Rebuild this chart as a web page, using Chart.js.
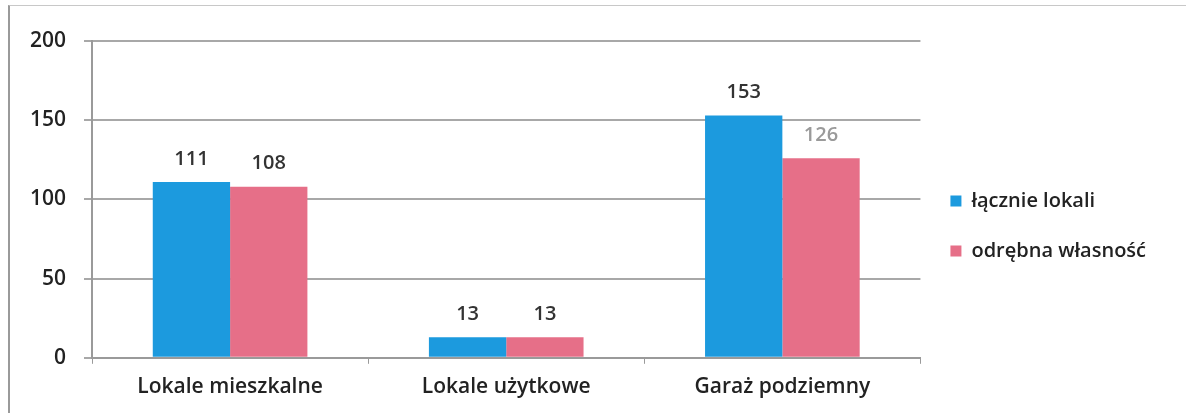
<!DOCTYPE html>
<html>
<head>
<meta charset="utf-8">
<script src="https://cdn.jsdelivr.net/npm/chart.js@4"></script>
<style>
  html, body { margin: 0; padding: 0; background: #fff; }
  #wrap { position: absolute; left: 0; top: 0; width: 1186px; height: 413px; }
  #frame { position: absolute; left: 8px; top: 5px; width: 1178px; height: 408px;
           border-left: 2px solid #9a9a9a; border-top: 1px solid #c8c8c8; }
</style>
</head>
<body>
<div id="wrap">
  <div id="frame"></div>
  <canvas id="mycanvas" width="1186" height="413"></canvas>
</div>
<script>
var categories = ["Lokale mieszkalne", "Lokale użytkowe", "Garaż podziemny"];
var lacznie = [111, 13, 153];
var odrebna = [108, 13, 126];
var yTicks = [0, 50, 100, 150, 200];

var FONT = '"Open Sans", Lato, sans-serif';

// etykiety nad slupkami
var barLabels = {
	id: 'barLabels',
	afterDatasetsDraw: function(chart) {
		var ctx = chart.ctx;
		ctx.save();
		ctx.font = '600 20px ' + FONT;
		ctx.textAlign = 'center';
		ctx.textBaseline = 'bottom';
		chart.data.datasets.forEach(function(ds, di) {
			var meta = chart.getDatasetMeta(di);
			meta.data.forEach(function(bar, i) {
				ctx.fillStyle = (di == 1 && i == 2) ? '#9a9a9a' : '#333333';
				ctx.fillText(ds.data[i], bar.x, bar.y - 13);
			});
		});
		ctx.restore();
	}
};

var ctx = document.getElementById("mycanvas");
var barGraph = new Chart(ctx, {
	type: 'bar',
	data: {
		labels: categories,
		datasets: [
			{
				label: 'łącznie lokali',
				backgroundColor: '#1c9ade',
				data: lacznie
			},
			{
				label: 'odrębna własność',
				backgroundColor: '#e66f88',
				data: odrebna
			}
		]
	},
	options: {
		responsive: false,
		animation: false,
		layout: { padding: { left: 12, right: 30, top: 41, bottom: 2 } },
		datasets: {
			bar: { categoryPercentage: 0.56, barPercentage: 1.0 }
		},
		plugins: {
			legend: {
				position: 'right',
				labels: {
					boxWidth: 11,
					boxHeight: 11,
					padding: 30,
					color: '#222',
					font: { size: 20, weight: '600', family: FONT }
				}
			},
			tooltip: { enabled: false }
		},
		scales: {
			x: {
				grid: { display: true, drawOnChartArea: false, drawTicks: true, tickLength: 6, color: '#9a9a9a', lineWidth: 1, offset: true },
				border: { color: '#9a9a9a', width: 2 },
				ticks: { color: '#222', padding: 11, font: { size: 21, weight: '600', family: FONT } }
			},
			y: {
				min: 0,
				max: 200,
				afterBuildTicks: function(axis) {
					axis.ticks = yTicks.map(function(v) { return { value: v }; });
				},
				grid: { color: '#a8a8a8', lineWidth: 2, tickLength: 8 },
				border: { color: '#9a9a9a', width: 2 },
				ticks: { color: '#222', padding: 18, font: { size: 21, weight: '600', family: FONT } }
			}
		}
	},
	plugins: [barLabels]
});
</script>
</body>
</html>
